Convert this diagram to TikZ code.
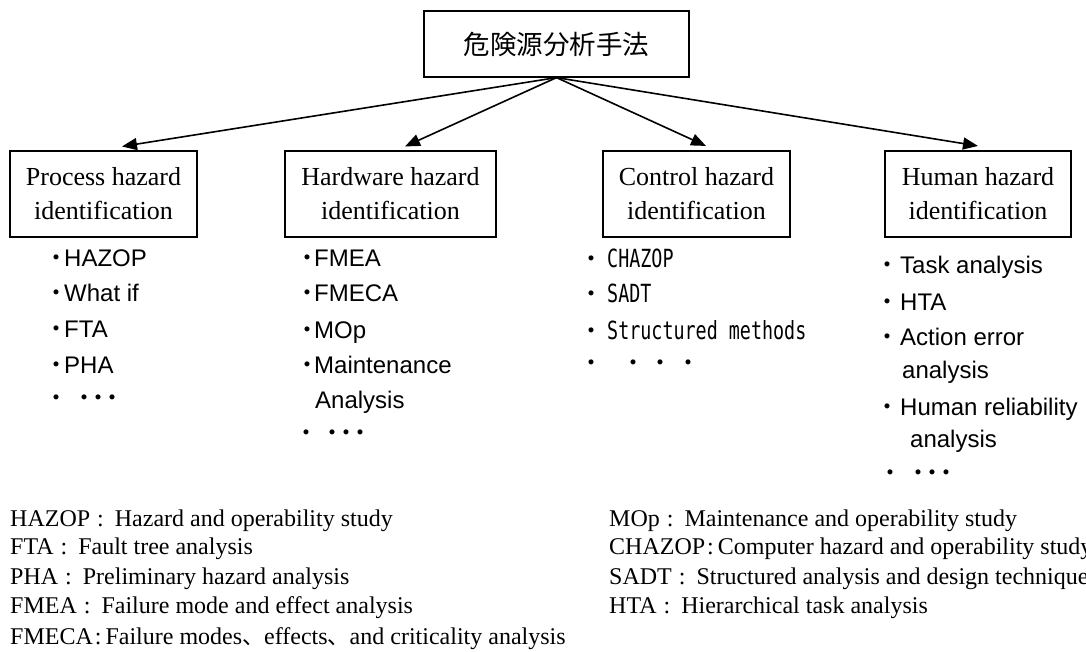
\documentclass[tikz,border=0pt]{standalone}
\usepackage{fontspec}
\setmainfont{Liberation Serif}
\newfontfamily\jpfont{Noto Sans CJK JP}
\newfontfamily\gothfont{Liberation Sans}
\newfontfamily\narrowmono[FakeStretch=0.735]{DejaVu Sans Mono}
\usetikzlibrary{arrows.meta}
% half-width middle dot used as list bullet
\newcommand\bul{{\jpfont\bfseries\fontsize{24}{24}\selectfont ･}}
% wide and narrow colon, ideographic comma for the abbreviation list
\newcommand\wcolon{\hspace{7pt}:\hspace{11pt}}
\newcommand\ncolon{\hspace{2pt}:\hspace{4pt}}
\newcommand\jcomma{{\jpfont\fontsize{22}{22}\selectfont 、}}

\begin{document}
\begin{tikzpicture}[x=1pt,y=-1pt,
  headbox/.style={draw, line width=1.2pt, minimum width=265pt, minimum height=66pt,
    inner sep=0pt, font=\jpfont\fontsize{26.5}{30}\selectfont},
  catbox/.style={draw, line width=1.1pt, minimum height=86pt, inner sep=0pt,
    align=center, font=\fontsize{26}{34}\selectfont},
  link/.style={line width=1.6pt, -{Triangle[length=15pt,width=12pt]}},
  li/.style={anchor=base west, inner sep=0pt, font=\gothfont\fontsize{24}{24}\selectfont},
  mli/.style={anchor=base west, inner sep=0pt, font=\narrowmono\fontsize{25}{25}\selectfont},
  note/.style={anchor=base west, inner sep=0pt, font=\fontsize{24}{24}\selectfont}]
\useasboundingbox (0,0) rectangle (1086,652);

% root and the four categories
\node[headbox] (top) at (556.5,44) {危険源分析手法};
\node[catbox, minimum width=187pt] (proc) at (103.5,194) {Process hazard\\identification};
\node[catbox, minimum width=211pt] (hw)   at (390.5,194) {Hardware hazard\\identification};
\node[catbox, minimum width=187pt] (ctrl) at (696.5,194) {Control hazard\\identification};
\node[catbox, minimum width=186pt] (hum)  at (978,194)   {Human hazard\\identification};

\draw[link] (top.south) -- ([xshift=18.5pt,yshift=4pt]proc.north);
\draw[link] (top.south) -- ([xshift=14.5pt,yshift=4pt]hw.north);
\draw[link] (top.south) -- ([xshift=9.5pt,yshift=4.5pt]ctrl.north);
\draw[link] (top.south) -- ([yshift=4.5pt]hum.north);

% process hazard methods
\node[li] (p1) at (50,266.6) {\bul\hspace{2pt}HAZOP};
\node[li] (p2) at (50,301.6) {\bul\hspace{2pt}What if};
\node[li] (p3) at (50,337.6) {\bul\hspace{2pt}FTA};
\node[li] (p4) at (50,373.6) {\bul\hspace{2pt}PHA};
\node[li] (p5) at (50,406.6) {\bul\hspace{16pt}\bul\hspace{2pt}\bul\hspace{2pt}\bul};

% hardware hazard methods
\node[li] (h1) at (301,266.6) {\bul\hspace{1pt}FMEA};
\node[li] (h2) at (301,301.6) {\bul\hspace{1pt}FMECA};
\node[li] (h3) at (301,338.6) {\bul\hspace{1pt}MOp};
\node[li] (h4) at (301,373.6) {\bul\hspace{1pt}Maintenance};
\node[li] (h5) at (315,408.6) {Analysis};
\node[li] (h6) at (300,441.6) {\bul\hspace{14pt}\bul\hspace{2pt}\bul\hspace{2pt}\bul};

% control hazard methods
\node[mli] (c1) at (585,267.1) {\bul\hspace{10pt}CHAZOP};
\node[mli] (c2) at (585,302.1) {\bul\hspace{10pt}SADT};
\node[mli] (c3) at (585,339.1) {\bul\hspace{10pt}Structured methods};
\node[li]  (c4) at (585,371.6) {\bul\hspace{30pt}\bul\hspace{15pt}\bul\hspace{16pt}\bul};

% human hazard methods
\node[li] (u1) at (881.5,273.6) {\bul\hspace{6.5pt}Task analysis};
\node[li] (u2) at (881.5,310.6) {\bul\hspace{6.5pt}HTA};
\node[li] (u3) at (881.5,345.6) {\bul\hspace{6.5pt}Action error};
\node[li] (u4) at (902,378.6)   {analysis};
\node[li] (u5) at (881.5,415.6) {\bul\hspace{6.5pt}Human reliability};
\node[li] (u6) at (910,447.6)   {analysis};
\node[li] (u7) at (884,481.6)   {\bul\hspace{16pt}\bul\hspace{2pt}\bul\hspace{2pt}\bul};

% abbreviations
\node[note] (n1) at (10,526) {HAZOP\wcolon Hazard and operability study};
\node[note] (n2) at (10,554) {FTA\wcolon Fault tree analysis};
\node[note] (n3) at (10,584) {PHA\wcolon Preliminary hazard analysis};
\node[note] (n4) at (10,613) {FMEA\wcolon Failure mode and effect analysis};
\node[note] (n5) at (10,644) {FMECA\ncolon Failure modes\jcomma effects\jcomma and criticality analysis};
\node[note] (n6) at (609,526) {MOp\wcolon Maintenance and operability study};
\node[note] (n7) at (609,554) {CHAZOP\ncolon Computer hazard and operability study};
\node[note] (n8) at (609,584) {SADT\wcolon Structured analysis and design technique};
\node[note] (n9) at (609,613) {HTA\wcolon Hierarchical task analysis};
\end{tikzpicture}
\end{document}
